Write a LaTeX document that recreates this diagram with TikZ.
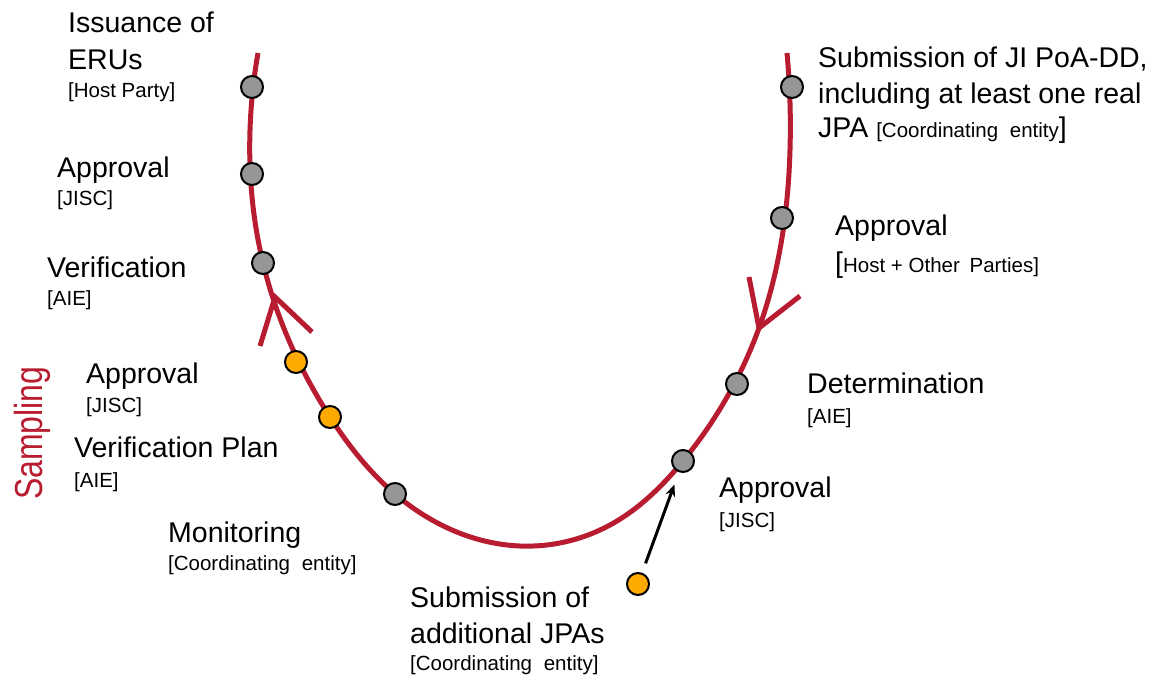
\documentclass[tikz,border=0pt]{standalone}
\usepackage{fontspec}
\usepackage{graphicx}
\setmainfont{Liberation Sans}
\usetikzlibrary{arrows.meta,hobby}
\definecolor{cycred}{RGB}{184,28,48}
\definecolor{dotgray}{RGB}{150,150,150}
\definecolor{dotorange}{RGB}{255,170,0}
\newcommand{\bigf}{\fontsize{28.5}{34}\selectfont}
\newcommand{\smallf}{\fontsize{20.5}{24}\selectfont}
\begin{document}
\begin{tikzpicture}[x=1pt,y=-1pt,
  gdot/.style={circle,draw=black,line width=2pt,fill=dotgray,minimum size=22pt,inner sep=0pt},
  odot/.style={circle,draw=black,line width=2pt,fill=dotorange,minimum size=22pt,inner sep=0pt},
  bigtxt/.style={anchor=base west,inner sep=0pt,font=\bigf},
  smalltxt/.style={anchor=base west,inner sep=0pt,font=\smallf},
  cycle line/.style={draw=cycred,line width=5pt},
  vtip/.style={draw=cycred,line width=5pt,line join=miter}]
\useasboundingbox (0,0) rectangle (1163,677);
% main curve
\draw[cycle line,use Hobby shortcut] (258,53) .. (250,130) .. (263,263) .. (330,417)
 .. (395,494) .. (520,546) .. (610,525) .. (683,461) .. (759,328) .. (790,150) .. (787,53);
% open arrow heads
\coordinate (lt) at (275,297);
\coordinate (la) at (260,346);
\coordinate (lb) at (312,332);
\draw[vtip] (la) -- (lt) -- (lb);
\coordinate (rt) at (759,328);
\coordinate (ra) at (749,277);
\coordinate (rb) at (800,296);
\draw[vtip] (ra) -- (rt) -- (rb);
% dots
\node[gdot] (g1) at (252,87) {};
\node[gdot] (g2) at (252,174) {};
\node[gdot] (g3) at (263,263) {};
\node[odot] (o1) at (296,362) {};
\node[odot] (o2) at (330,417) {};
\node[gdot] (g4) at (395,494) {};
\node[gdot] (g5) at (683,461) {};
\node[gdot] (g6) at (737,384) {};
\node[gdot] (g7) at (782,218) {};
\node[gdot] (g8) at (792,87) {};
\node[odot] (o3) at (638,584) {};
% black arrow
\draw[line width=3pt,-{Stealth[length=12pt,width=10pt]},shorten <=10pt,shorten >=13pt] (o3) -- (g5);
% labels left
\node[bigtxt] (t1a) at (68,33) {Issuance of};
\node[bigtxt] (t1b) at (68,70) {ERUs};
\node[smalltxt] (t1c) at (68,98) {[Host Party]};
\node[bigtxt] (t2a) at (57,177) {Approval};
\node[smalltxt] (t2b) at (57,205) {[JISC]};
\node[bigtxt] (t3a) at (47,277) {Verification};
\node[smalltxt] (t3b) at (47,305) {[AIE]};
\node[bigtxt] (t4a) at (86,383) {Approval};
\node[smalltxt] (t4b) at (86,412) {[JISC]};
\node[bigtxt] (t5a) at (74,457) {Verification Plan};
\node[smalltxt] (t5b) at (74,487) {[AIE]};
\node[bigtxt] (t6a) at (168,542) {Monitoring};
\node[smalltxt] (t6b) at (168,570) {[Coordinating\hspace{6pt} entity]};
\node[bigtxt] (t7a) at (410,607) {Submission of};
\node[bigtxt] (t7b) at (410,643) {additional JPAs};
\node[smalltxt] (t7c) at (410,670) {[Coordinating\hspace{6pt} entity]};
% labels right
\node[bigtxt] (t8a) at (719,497) {Approval};
\node[smalltxt] (t8b) at (719,527) {[JISC]};
\node[bigtxt] (t9a) at (807,393) {Determination};
\node[smalltxt] (t9b) at (807,423) {[AIE]};
\node[bigtxt] (t10a) at (835,235) {Approval};
\node[smalltxt] (t10b) at (835,272) {{\bigf[}Host + Other\hspace{4pt} Parties]};
\node[bigtxt] (t11a) at (818,67) {Submission of JI PoA-DD,};
\node[bigtxt] (t11b) at (818,103) {including at least one real};
\node[bigtxt] (t11c) at (818,137) {JPA {\smallf[Coordinating\hspace{6pt} entity}]};
% sampling
\node[rotate=90,anchor=base west,inner sep=0pt,text=cycred,font=\fontsize{32}{36}\selectfont] (samp) at (42,500) {\scalebox{1}[1.22]{Sampling}};
\end{tikzpicture}
\end{document}
